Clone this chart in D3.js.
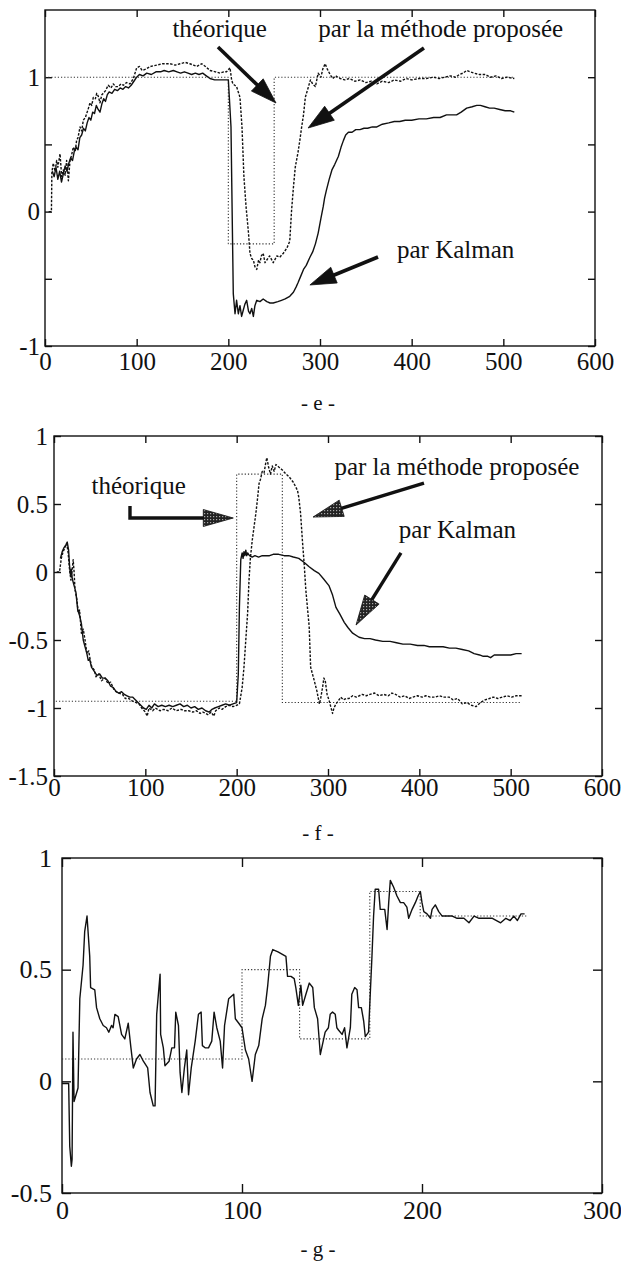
<!DOCTYPE html>
<html>
<head>
<meta charset="utf-8">
<script src="https://cdn.jsdelivr.net/npm/d3@7"></script>
<style>
  body { margin: 0; background: #fff; }
  svg { display: block; }
</style>
</head>
<body>
<div id="wrapper"></div>
<script>
/* global d3 */

// ---- data : [x, value] ----
const eTheoretical = [[0, 1], [200, -0.24], [250, 1], [512, 1]]
const eProposed = [[4, 0], [7, 0], [7.5, 0.29], [9, 0.36], [11, 0.30], [12.7, 0.38], [14, 0.33], [16.4, 0.43], [18.2, 0.26], [20, 0.31], [22, 0.27], [23.6, 0.38], [25.5, 0.23], [27.3, 0.38], [29, 0.42], [30.9, 0.48], [33, 0.45], [34.5, 0.53], [36, 0.55], [38.2, 0.63], [40, 0.60], [41.8, 0.68], [44, 0.70], [45.5, 0.73], [47, 0.76], [49.1, 0.81], [51, 0.79], [52.7, 0.85], [55, 0.84], [56.4, 0.88], [58, 0.86], [60, 0.81], [62, 0.87], [63.6, 0.88], [66, 0.90], [69, 0.94], [72, 0.92], [74.5, 0.95], [77, 0.93], [80, 0.93], [83, 0.95], [85.5, 0.94], [89, 0.96], [92.7, 0.95], [96.4, 0.99], [100, 1.07], [103, 1.08], [106, 1.05], [110, 1.06], [115, 1.08], [121.8, 1.09], [128, 1.10], [136.4, 1.10], [142, 1.09], [147.3, 1.10], [153, 1.11], [158, 1.10], [162, 1.09], [165.5, 1.08], [171, 1.10], [175, 1.08], [180, 1.05], [186, 1.04], [191, 1.03], [195, 1.04], [198, 1.04], [201.8, 1.07], [203.6, 0.98], [205, 0.95], [209, 0.93], [212.7, 0.85], [214.9, 0.63], [217, 0.26], [219.3, 0.04], [222, -0.16], [223.6, -0.31], [225.5, -0.35], [227.3, -0.36], [229, -0.41], [231, -0.43], [233, -0.36], [234.5, -0.38], [236, -0.33], [238, -0.31], [240, -0.38], [242, -0.36], [245, -0.33], [249, -0.38], [253, -0.33], [256, -0.34], [260, -0.31], [264, -0.27], [267, -0.22], [269, 0.01], [271, 0.18], [273, 0.33], [276, 0.44], [278, 0.53], [280, 0.63], [282, 0.72], [284, 0.85], [287, 0.92], [289.6, 0.98], [292, 0.95], [295, 0.93], [298, 1.03], [301, 1.00], [303, 1.06], [305.6, 1.10], [308, 1.06], [311, 1.02], [314, 0.99], [317, 1.01], [322, 0.99], [327, 0.98], [332, 0.99], [338, 0.97], [344, 0.98], [350, 0.96], [356, 0.97], [362, 0.95], [368, 0.97], [375, 0.96], [381, 0.98], [388, 0.97], [394, 0.99], [400, 0.98], [408, 0.99], [416, 0.99], [424, 1.00], [430, 0.99], [436, 1.00], [442, 1.01], [448, 1.00], [452, 1.02], [456, 1.03], [460, 1.05], [464, 1.04], [468, 1.03], [474, 1.02], [480, 1.02], [486, 1.00], [492, 1.01], [498, 0.99], [504, 1.00], [512, 0.99]]
const eKalman = [[8, 0.30], [10, 0.26], [12, 0.33], [14, 0.24], [16, 0.30], [18, 0.22], [20, 0.28], [22, 0.34], [24, 0.30], [26, 0.36], [28, 0.40], [30, 0.38], [32, 0.45], [34, 0.48], [36, 0.46], [38, 0.55], [40, 0.57], [42, 0.62], [44, 0.60], [46, 0.66], [48, 0.70], [50, 0.68], [52, 0.74], [54, 0.73], [56, 0.79], [58, 0.76], [60, 0.74], [62, 0.80], [64, 0.84], [66, 0.82], [68, 0.87], [70, 0.89], [73, 0.88], [76, 0.91], [79, 0.90], [82, 0.92], [85, 0.91], [88, 0.93], [91, 0.92], [94, 0.94], [97, 0.97], [100, 1.00], [103, 1.02], [107, 1.01], [111, 1.03], [116, 1.02], [121, 1.04], [126, 1.04], [130, 1.05], [135, 1.04], [140, 1.05], [144, 1.04], [148, 1.03], [152, 1.04], [156, 1.03], [160, 1.02], [164, 1.03], [168, 1.02], [172, 1.03], [176, 1.01], [180, 0.99], [185, 0.98], [190, 0.98], [195, 0.98], [200, 0.98], [201.5, 0.80], [202.9, 0.63], [204.4, -0.12], [205.4, -0.61], [207.3, -0.76], [209, -0.66], [210.9, -0.76], [212.7, -0.70], [214.5, -0.78], [216.4, -0.73], [218, -0.69], [220, -0.66], [222, -0.74], [223.6, -0.76], [225.5, -0.72], [227.3, -0.78], [229, -0.70], [231, -0.66], [234.5, -0.67], [238, -0.65], [242, -0.67], [245.5, -0.68], [249, -0.68], [254, -0.67], [258, -0.66], [262, -0.65], [267, -0.63], [271, -0.60], [274, -0.56], [276, -0.53], [279, -0.48], [282, -0.43], [285, -0.40], [289, -0.34], [292, -0.30], [295, -0.24], [298, -0.16], [301, -0.05], [303.6, 0.04], [305, 0.10], [307, 0.16], [310, 0.24], [313, 0.31], [316, 0.35], [320, 0.41], [323, 0.48], [325.6, 0.53], [328, 0.57], [331, 0.59], [335, 0.59], [339, 0.61], [343.6, 0.61], [348, 0.62], [352, 0.62], [357, 0.63], [362, 0.63], [368, 0.65], [375, 0.66], [381, 0.67], [387, 0.67], [393, 0.68], [400, 0.68], [408, 0.69], [416, 0.69], [424, 0.70], [431, 0.70], [438, 0.72], [444, 0.72], [449, 0.72], [454, 0.74], [460, 0.77], [466, 0.78], [471, 0.79], [475, 0.79], [480, 0.78], [485, 0.77], [490, 0.77], [496, 0.76], [502, 0.75], [508, 0.75], [512, 0.74]]

const fTheoretical = [[2, -0.95], [200, 0.72], [250, -0.96], [512, -0.96]]
const fProposed = [[3, 0], [6, 0], [8, 0.10], [10, 0.15], [12, 0.18], [14, 0.21], [15.5, 0.14], [17, 0.02], [18.5, -0.06], [20, 0.02], [21, 0.09], [22, 0.00], [23, -0.13], [25, -0.20], [26.6, -0.30], [28, -0.28], [30, -0.45], [32, -0.42], [34, -0.50], [36, -0.60], [38, -0.58], [40, -0.66], [41.5, -0.70], [44, -0.72], [46, -0.77], [49, -0.75], [52, -0.80], [56, -0.78], [59, -0.82], [62, -0.81], [66, -0.87], [71, -0.89], [75, -0.90], [78, -0.93], [82, -0.93], [86, -0.95], [90, -0.96], [93, -0.97], [96, -1.00], [100, -1.03], [102, -1.06], [104, -1.00], [108, -1.02], [111, -1.00], [116, -1.02], [120, -1.01], [125, -1.02], [129, -1.00], [134, -1.02], [139, -1.01], [143, -1.02], [147.6, -1.02], [152, -1.03], [156, -1.02], [160, -1.04], [163, -1.03], [166, -1.04], [169, -1.05], [172, -1.03], [175, -1.06], [177, -1.02], [181, -1.00], [184, -1.01], [188, -0.99], [192, -0.98], [196, -0.99], [200, -0.98], [203, -0.97], [206, -0.85], [208, -0.70], [210, -0.50], [212, -0.30], [213.5, -0.06], [215, 0.10], [217, 0.23], [219, 0.33], [221, 0.43], [223, 0.55], [224.5, 0.65], [226, 0.68], [228, 0.74], [230, 0.73], [231.8, 0.80], [233, 0.84], [235, 0.77], [237, 0.72], [239, 0.78], [241, 0.74], [243, 0.79], [246.4, 0.77], [250, 0.75], [254, 0.72], [257.4, 0.70], [262, 0.66], [266.6, 0.60], [268, 0.55], [270, 0.43], [272, 0.23], [274, 0.05], [275.7, -0.13], [278, -0.30], [279.4, -0.40], [281, -0.70], [285, -0.80], [288, -0.88], [290.6, -0.97], [292, -0.93], [294, -0.85], [295.5, -0.78], [297, -0.80], [299, -0.90], [301, -0.94], [303, -0.99], [305, -1.04], [306.5, -1.00], [308.7, -0.97], [311, -0.95], [314, -0.92], [317, -0.94], [320, -0.93], [323, -0.93], [327, -0.91], [331, -0.92], [337.5, -0.90], [342, -0.91], [346, -0.90], [351, -0.89], [356, -0.91], [361, -0.90], [366, -0.91], [370, -0.89], [374, -0.90], [379, -0.92], [384, -0.91], [388.8, -0.93], [393, -0.92], [398, -0.91], [403, -0.92], [407, -0.91], [412, -0.92], [417, -0.92], [422, -0.91], [427, -0.92], [432.6, -0.92], [437, -0.94], [442, -0.93], [447, -0.97], [452, -0.96], [457, -0.98], [462, -0.99], [467, -0.96], [472, -0.94], [476.7, -0.93], [481, -0.92], [486, -0.93], [491, -0.92], [496, -0.91], [501, -0.92], [506, -0.91], [512, -0.91]]
const fKalman = [[7, 0.10], [9, 0.15], [11, 0.18], [13, 0.20], [14.5, 0.22], [16, 0.16], [17, 0.05], [18, -0.02], [19, 0.02], [20, -0.05], [22, -0.10], [24, -0.15], [26, -0.28], [28, -0.32], [30, -0.38], [32, -0.50], [34, -0.55], [36, -0.60], [37.5, -0.65], [39, -0.64], [41, -0.70], [43, -0.72], [45, -0.74], [47, -0.76], [50, -0.75], [53, -0.78], [56, -0.78], [59, -0.80], [62, -0.84], [65, -0.85], [68, -0.88], [71, -0.89], [74, -0.88], [77, -0.90], [80, -0.91], [83, -0.92], [86, -0.92], [89, -0.94], [92, -0.96], [95, -0.98], [98, -1.00], [101, -1.01], [104, -0.98], [107, -1.00], [110, -0.97], [114, -0.99], [118, -0.98], [122, -0.99], [126, -0.98], [130, -0.99], [134, -0.98], [138, -0.97], [142, -0.99], [146, -0.98], [150, -1.00], [154, -0.99], [158, -1.01], [162, -1.00], [166, -1.02], [170, -1.03], [173, -1.01], [176, -1.00], [180, -0.99], [184, -0.98], [188, -0.97], [192, -0.98], [196, -0.97], [200, -0.96], [201.8, -0.75], [203, -0.26], [204.5, 0.09], [206, 0.14], [207, 0.10], [208, 0.15], [209, 0.12], [210, 0.16], [211, 0.12], [212, 0.14], [214, 0.12], [217, 0.11], [220, 0.12], [224, 0.11], [228, 0.12], [232, 0.12], [236, 0.12], [240, 0.13], [246, 0.13], [252, 0.12], [257, 0.12], [262, 0.11], [268, 0.10], [274, 0.07], [279, 0.04], [285, 0.01], [290, -0.01], [295, -0.05], [301, -0.10], [305, -0.17], [308.7, -0.26], [313, -0.31], [317.8, -0.37], [322, -0.41], [327, -0.45], [334, -0.48], [340, -0.49], [346, -0.49], [352, -0.50], [360, -0.51], [368, -0.51], [375, -0.52], [382, -0.53], [390, -0.53], [398, -0.54], [405, -0.54], [411, -0.55], [418, -0.55], [426, -0.55], [433, -0.56], [440, -0.56], [447, -0.57], [454, -0.58], [460, -0.60], [466, -0.61], [470, -0.62], [475, -0.62], [478, -0.63], [482, -0.61], [488, -0.61], [494, -0.61], [500, -0.61], [506, -0.60], [512, -0.60]]

const gTheoretical = [[0, 0.10], [100, 0.50], [132, 0.19], [171, 0.85], [199, 0.74], [258, 0.74]]
const gEstimate = [[0, -0.01], [3.7, -0.01], [4.3, -0.29], [5.2, -0.38], [5.6, -0.35], [6.1, 0.22], [6.7, -0.09], [8.9, -0.03], [9.9, 0.37], [11.7, 0.52], [12.6, 0.67], [13.9, 0.74], [15.4, 0.56], [15.9, 0.42], [18.2, 0.41], [19.2, 0.33], [21, 0.28], [22.9, 0.25], [24.7, 0.24], [26, 0.22], [27.5, 0.25], [28.4, 0.24], [29.4, 0.30], [31.2, 0.29], [33.1, 0.21], [34.9, 0.19], [36.8, 0.26], [38.3, 0.15], [39.6, 0.06], [41.4, 0.10], [43.3, 0.12], [45.2, 0.09], [47.6, 0.06], [48.9, -0.05], [50.7, -0.11], [51.7, -0.11], [52.6, 0.30], [54.5, 0.48], [54.8, 0.21], [56.3, 0.15], [57.2, 0.07], [59.5, 0.09], [61, 0.15], [62.5, 0.15], [63.2, 0.31], [64.7, 0.25], [65.6, 0.04], [66.6, -0.05], [68, 0.06], [69.3, 0.14], [70.3, -0.06], [71.8, 0.06], [74, 0.18], [75.8, 0.30], [77.3, 0.31], [78, 0.16], [79.5, 0.15], [81.4, 0.15], [83.2, 0.18], [84.5, 0.31], [86, 0.24], [87.9, 0.18], [89.2, 0.06], [90.3, 0.25], [92.6, 0.37], [95.4, 0.39], [96.3, 0.28], [98.2, 0.26], [100, 0.24], [101.9, 0.14], [103.7, 0.10], [105.6, 0.00], [107.4, 0.12], [109.3, 0.16], [111.2, 0.28], [113, 0.34], [114.3, 0.43], [115.8, 0.56], [117.1, 0.59], [120, 0.58], [124.4, 0.56], [125.3, 0.47], [127.2, 0.47], [129, 0.46], [129.9, 0.42], [131.3, 0.34], [132.7, 0.43], [133.7, 0.34], [135.5, 0.39], [137.4, 0.44], [139.3, 0.42], [140.2, 0.33], [142, 0.28], [143.5, 0.12], [146.2, 0.22], [148, 0.24], [149, 0.30], [150.3, 0.31], [151.8, 0.30], [152.7, 0.24], [153.6, 0.23], [155.6, 0.21], [157, 0.24], [158.3, 0.15], [160.2, 0.24], [161, 0.39], [162.6, 0.42], [163.9, 0.41], [164.8, 0.33], [166.3, 0.33], [167.6, 0.27], [168.5, 0.20], [170.3, 0.22], [172.2, 0.56], [173.1, 0.74], [174, 0.86], [175.9, 0.86], [176.8, 0.77], [179.3, 0.77], [180.6, 0.68], [181.5, 0.80], [182.4, 0.90], [184.2, 0.87], [186.1, 0.83], [188, 0.80], [189.8, 0.80], [191.6, 0.78], [192.6, 0.73], [194.5, 0.77], [196.3, 0.80], [197.8, 0.83], [199.1, 0.85], [200, 0.80], [201, 0.76], [202.8, 0.75], [204.7, 0.73], [205.6, 0.77], [207.4, 0.79], [209.3, 0.76], [211.2, 0.74], [213, 0.74], [216.8, 0.74], [219.5, 0.73], [223.3, 0.73], [226.1, 0.71], [228.9, 0.74], [231.7, 0.73], [235.4, 0.73], [239.1, 0.73], [243.7, 0.71], [246.6, 0.73], [249, 0.72], [251, 0.74], [253, 0.72], [255, 0.75], [257, 0.75]]

// ---- tick labels ----
const efXTicks = [0, 100, 200, 300, 400, 500, 600]
const eYTicks = [-1, -0.5, 0, 0.5, 1]
const eYLabelled = [-1, 0, 1]
const fYTicks = [-1.5, -1, -0.5, 0, 0.5, 1]
const gXTicks = [0, 100, 200, 300]
const gYTicks = [-0.5, 0, 0.5, 1]
const captions = ["- e -", "- f -", "- g -"]
const noteTexts = ["théorique", "par la méthode proposée", "par Kalman"]

const serif = "'Liberation Serif', serif"

function drawFigure() {

  const svg = d3.select("#wrapper")
    .append("svg")
      .attr("width", 621)
      .attr("height", 1269)
      .attr("font-family", serif)

  // stippled fill used on the arrow heads of panel f
  const pat = svg.append("defs").append("pattern")
    .attr("id", "stipple")
    .attr("width", 3).attr("height", 3)
    .attr("patternUnits", "userSpaceOnUse")
  pat.append("rect").attr("width", 3).attr("height", 3).attr("fill", "#222")
  pat.append("rect").attr("width", 1.2).attr("height", 1.2).attr("fill", "#aaa")

  const ink = "#111"

  // draw an arrow along a list of pixel points, head at the last point
  function arrow(g, pts, o) {
    const [x1, y1] = pts[pts.length - 2]
    const [x2, y2] = pts[pts.length - 1]
    const len = Math.hypot(x2 - x1, y2 - y1)
    const ux = (x2 - x1) / len, uy = (y2 - y1) / len
    const nx = -uy, ny = ux
    const bx = x2 - ux * o.head, by = y2 - uy * o.head
    const shaft = pts.slice(0, -1).concat([[bx + ux * 3, by + uy * 3]])
    g.append("path")
      .attr("d", d3.line()(shaft))
      .attr("fill", "none")
      .attr("stroke", ink)
      .attr("stroke-width", o.width)
    g.append("path")
      .attr("d", `M${x2},${y2}L${bx + nx * o.half},${by + ny * o.half}L${bx - nx * o.half},${by - ny * o.half}Z`)
      .attr("fill", o.fill)
      .attr("stroke", ink)
      .attr("stroke-width", 0.8)
  }

  function drawPanel(p) {
    const x = d3.scaleLinear().domain(p.xDomain).range([p.left, p.right])
    const y = d3.scaleLinear().domain(p.yDomain).range([p.bottom, p.top])
    const g = svg.append("g")

    const styleAxis = a => {
      a.select(".domain").remove()
      a.attr("font-family", serif)
        .attr("font-size", p.tickFont)
        .attr("color", ink)
      a.selectAll(".tick line").attr("stroke-width", 1.4)
    }
    const fmt = d => String(d)

    // axes: ticks point inward on all four sides
    g.append("g")
      .attr("transform", `translate(0,${p.bottom})`)
      .call(d3.axisBottom(x).tickValues(p.xTicks).tickSizeInner(-p.tick).tickSizeOuter(0)
        .tickPadding(p.xPad).tickFormat(fmt))
      .call(styleAxis)
    g.append("g")
      .attr("transform", `translate(0,${p.top})`)
      .call(d3.axisTop(x).tickValues(p.xTicks).tickSizeInner(-p.tick).tickSizeOuter(0).tickFormat(""))
      .call(styleAxis)
    g.append("g")
      .attr("transform", `translate(${p.left},0)`)
      .call(d3.axisLeft(y).tickValues(p.yTicks).tickSizeInner(-p.tick).tickSizeOuter(0)
        .tickPadding(p.yPad).tickFormat(d => p.yLabelled.includes(d) ? fmt(d) : ""))
      .call(styleAxis)
    g.append("g")
      .attr("transform", `translate(${p.right},0)`)
      .call(d3.axisRight(y).tickValues(p.yTicks).tickSizeInner(-p.tick).tickSizeOuter(0).tickFormat(""))
      .call(styleAxis)

    // frame
    g.append("rect")
      .attr("x", p.left).attr("y", p.top)
      .attr("width", p.right - p.left).attr("height", p.bottom - p.top)
      .attr("fill", "none")
      .attr("stroke", ink)
      .attr("stroke-width", 1.4)

    // series
    p.series.forEach(s => {
      const lineGenerator = d3.line()
        .x(d => x(d[0]))
        .y(d => y(d[1]))
        .curve(s.step ? d3.curveStepAfter : d3.curveLinear)
      g.append("path")
        .attr("d", lineGenerator(s.data))
        .attr("fill", "none")
        .attr("stroke", s.color)
        .attr("stroke-width", s.width)
        .attr("stroke-dasharray", s.dash)
        .attr("stroke-linejoin", "round")
    })

    // annotations (positions given in data units)
    p.notes.forEach(n => {
      g.append("text")
        .attr("x", x(n.x)).attr("y", y(n.y))
        .attr("font-size", 25)
        .attr("fill", ink)
        .text(n.text)
    })
    p.arrows.forEach(a => {
      arrow(g, a.pts.map(d => [x(d[0]), y(d[1])]), a)
    })

    // caption under the panel
    g.append("text")
      .attr("x", p.captionX).attr("y", p.captionY)
      .attr("text-anchor", "middle")
      .attr("font-size", 21)
      .attr("fill", ink)
      .text(p.caption)
  }

  const theo = { color: "#333", width: 1.1, dash: "1.2,2", step: true }
  const prop = { color: ink, width: 1.4, dash: "2.5,1.5" }
  const kal = { color: ink, width: 1.4, dash: null }
  const solidHead = { width: 3.6, head: 26, half: 8.5, fill: ink }
  const stippleHead = { width: 3.4, head: 30, half: 8.5, fill: "url(#stipple)" }

  // panel e
  drawPanel({
    left: 45, right: 595, top: 10, bottom: 346,
    xDomain: [0, 600], yDomain: [-1, 1.5],
    xTicks: efXTicks, yTicks: eYTicks, yLabelled: eYLabelled,
    tick: 7, tickFont: 25, xPad: 6, yPad: 5,
    series: [
      { ...theo, data: eTheoretical },
      { ...prop, data: eProposed },
      { ...kal, data: eKalman },
    ],
    notes: [
      { text: noteTexts[0], x: 139, y: 1.30 },
      { text: noteTexts[1], x: 298, y: 1.30 },
      { text: noteTexts[2], x: 384, y: -0.345 },
    ],
    arrows: [
      { ...solidHead, pts: [[188.7, 1.225], [252, 0.808]] },
      { ...solidHead, pts: [[413.4, 1.217], [287, 0.622]] },
      { ...solidHead, pts: [[363.3, -0.338], [289, -0.546]] },
    ],
    caption: captions[0], captionX: 318, captionY: 410,
  })

  // panel f
  drawPanel({
    left: 54, right: 602, top: 436, bottom: 776,
    xDomain: [0, 600], yDomain: [-1.5, 1],
    xTicks: efXTicks, yTicks: fYTicks, yLabelled: fYTicks,
    tick: 7, tickFont: 25, xPad: 2, yPad: 6,
    series: [
      { ...theo, data: fTheoretical },
      { ...prop, data: fProposed },
      { ...kal, data: fKalman },
    ],
    notes: [
      { text: noteTexts[0], x: 41, y: 0.574 },
      { text: noteTexts[1], x: 307, y: 0.713 },
      { text: noteTexts[2], x: 377.5, y: 0.25 },
    ],
    arrows: [
      { ...stippleHead, pts: [[83.2, 0.485], [83.2, 0.397], [196.3, 0.397]] },
      { ...stippleHead, pts: [[405.1, 0.654], [283.6, 0.404]] },
      { ...stippleHead, pts: [[379.9, 0.14], [330.7, -0.39]] },
    ],
    caption: captions[1], captionX: 318, captionY: 840,
  })

  // panel g
  drawPanel({
    left: 62, right: 602, top: 858, bottom: 1193,
    xDomain: [0, 300], yDomain: [-0.5, 1],
    xTicks: gXTicks, yTicks: gYTicks, yLabelled: gYTicks,
    tick: 9, tickFont: 26, xPad: 8, yPad: 10,
    series: [
      { ...theo, data: gTheoretical },
      { ...kal, data: gEstimate },
    ],
    notes: [],
    arrows: [],
    caption: captions[2], captionX: 318, captionY: 1256,
  })
}

drawFigure()
</script>
</body>
</html>
